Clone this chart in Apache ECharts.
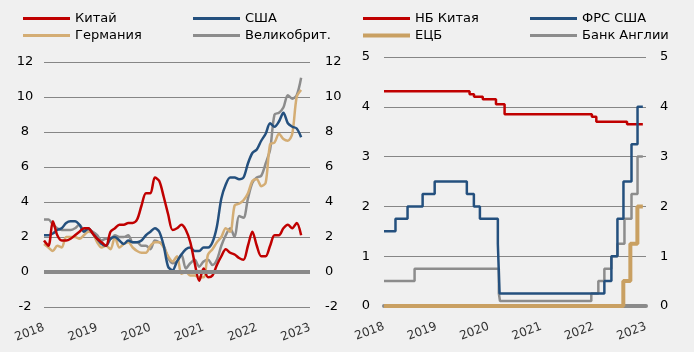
<!DOCTYPE html>
<html>
<head>
<meta charset="utf-8">
<script src="https://cdn.jsdelivr.net/npm/echarts@6/dist/echarts.min.js"></script>
<style>
  html, body { margin: 0; padding: 0; background: #f0f0f0; }
  #main { width: 694px; height: 352px; }
</style>
</head>
<body>
<div id="main"></div>
<script>
var myChart = echarts.init(document.getElementById('main'));

// left panel: CPI y/y, monthly from Dec 2017
var yearLabels = ['2018', '2019', '2020', '2021', '2022', '2023'];
var monthCount = 61;

var chinaCpi = [1.8, 1.5, 2.9, 2.1, 1.8, 1.8, 1.9, 2.1, 2.3, 2.5, 2.5, 2.2, 1.9,
  1.7, 1.5, 2.3, 2.5, 2.7, 2.7, 2.8, 2.8, 3.0, 3.8, 4.5, 4.5,
  5.4, 5.2, 4.3, 3.3, 2.4, 2.5, 2.7, 2.4, 1.7, 0.5, -0.5, 0.2,
  -0.3, -0.2, 0.4, 0.9, 1.3, 1.1, 1.0, 0.8, 0.7, 1.5, 2.3, 1.5,
  0.9, 0.9, 1.5, 2.1, 2.1, 2.5, 2.7, 2.5, 2.8, 2.1];
var usCpi = [2.1, 2.1, 2.2, 2.4, 2.5, 2.8, 2.9, 2.9, 2.7, 2.3, 2.5, 2.2, 1.9,
  1.6, 1.5, 1.9, 2.0, 1.8, 1.6, 1.8, 1.7, 1.7, 1.8, 2.1, 2.3,
  2.5, 2.3, 1.5, 0.3, 0.1, 0.6, 1.0, 1.3, 1.4, 1.2, 1.2, 1.4,
  1.4, 1.7, 2.6, 4.2, 5.0, 5.4, 5.4, 5.3, 5.4, 6.2, 6.8, 7.0,
  7.5, 7.9, 8.5, 8.3, 8.6, 9.1, 8.5, 8.3, 8.2, 7.7];
var gerCpi = [1.6, 1.4, 1.2, 1.5, 1.4, 2.0, 2.0, 2.0, 1.9, 2.1, 2.3, 2.2, 1.7,
  1.4, 1.5, 1.3, 2.0, 1.4, 1.6, 1.7, 1.4, 1.2, 1.1, 1.1, 1.5,
  1.7, 1.7, 1.4, 0.9, 0.6, 0.9, -0.1, 0.0, -0.2, -0.2, -0.3, -0.3,
  1.0, 1.3, 1.7, 2.0, 2.5, 2.3, 3.8, 3.9, 4.1, 4.5, 5.2, 5.3,
  4.9, 5.1, 7.3, 7.4, 7.9, 7.6, 7.5, 7.9, 10.0, 10.4];
var ukCpi = [3.0, 3.0, 2.7, 2.5, 2.4, 2.4, 2.4, 2.5, 2.7, 2.4, 2.4, 2.3, 2.1,
  1.8, 1.9, 1.9, 2.1, 2.0, 2.0, 2.1, 1.7, 1.7, 1.5, 1.5, 1.3,
  1.8, 1.7, 1.5, 0.8, 0.5, 0.6, 1.0, 0.2, 0.5, 0.7, 0.3, 0.6,
  0.7, 0.4, 0.7, 1.5, 2.1, 2.5, 2.0, 3.2, 3.1, 4.2, 5.1, 5.4,
  5.5, 6.2, 7.0, 9.0, 9.1, 9.4, 10.1, 9.9, 10.1, 11.1];

// right panel: policy rates, change dates
var pbocDates = ['2018-01-01', '2019-08-20', '2019-09-20', '2019-11-20', '2020-02-20', '2020-04-20', '2021-12-20', '2022-01-20', '2022-08-22', '2022-12-10'];
var pbocRates = [4.31, 4.25, 4.20, 4.15, 4.05, 3.85, 3.80, 3.70, 3.65, 3.65];
var fedDates = ['2018-01-01', '2018-03-22', '2018-06-14', '2018-09-27', '2018-12-20', '2019-08-01', '2019-09-19', '2019-10-31', '2020-03-04', '2020-03-16', '2022-03-17', '2022-05-05', '2022-06-16', '2022-07-28', '2022-09-22', '2022-11-03', '2022-12-10'];
var fedRates = [1.5, 1.75, 2.0, 2.25, 2.5, 2.25, 2.0, 1.75, 1.25, 0.25, 0.5, 1.0, 1.75, 2.5, 3.25, 4.0, 4.0];
var ecbDates = ['2018-01-01', '2022-07-27', '2022-09-14', '2022-11-02', '2022-12-10'];
var ecbRates = [0, 0.5, 1.25, 2.0, 2.0];
var boeDates = ['2018-01-01', '2018-08-02', '2020-03-11', '2020-03-19', '2021-12-16', '2022-02-03', '2022-03-17', '2022-05-05', '2022-06-16', '2022-08-04', '2022-09-22', '2022-11-03', '2022-12-10'];
var boeRates = [0.5, 0.75, 0.25, 0.1, 0.25, 0.5, 0.75, 1.0, 1.25, 1.75, 2.25, 3.0, 3.0];

var RED = '#c00000', BLUE = '#24507e', TAN = '#d4ad74', TAN2 = '#c9a062', GRAY = '#8c8c8c';
var FONT = 'DejaVu Sans';

var months = [];
for (var i = 0; i < monthCount; i++) months.push(String(i));

function toYear(s) {
  var y = +s.slice(0, 4);
  return y + (Date.parse(s) - Date.UTC(y, 0, 1)) / (365 * 864e5);
}
function steps(dates, rates) {
  return dates.map(function (d, k) { return [toYear(d), rates[k]]; });
}

function lineSeries(name, data, color, width) {
  return {
    name: name, type: 'line', data: data, smooth: 0.3, symbol: 'none',
    xAxisIndex: 0, yAxisIndex: 0,
    lineStyle: { color: color, width: width || 2.5 }, itemStyle: { color: color }
  };
}
function stepSeries(name, data, color, width) {
  return {
    name: name, type: 'line', data: data, step: 'end', symbol: 'none',
    xAxisIndex: 1, yAxisIndex: 2,
    lineStyle: { color: color, width: width || 2.5 }, itemStyle: { color: color }
  };
}
function leg(name, left, top, h) {
  return {
    data: [name], left: left, top: top, padding: 0, icon: 'rect',
    itemWidth: 47, itemHeight: h || 3, selectedMode: false,
    textStyle: { fontFamily: FONT, fontSize: 13, color: '#000' }
  };
}

var yLabel = { fontFamily: FONT, fontSize: 13, color: '#000' };
var xLabel = { fontFamily: FONT, fontSize: 12, color: '#333', rotate: 21, margin: 20 };
var split = { show: true, lineStyle: { color: '#868686', width: 1 } };

var uk = lineSeries('Великобрит.', ukCpi, GRAY);
uk.markLine = {
  silent: true, symbol: 'none', label: { show: false },
  lineStyle: { color: '#8a8a8a', width: 4, type: 'solid' },
  data: [{ yAxis: 0 }]
};

option = {
  backgroundColor: '#f0f0f0',
  animation: false,
  legend: [
    leg('Китай', 23, 12), leg('США', 193, 12),
    leg('Германия', 23, 29), leg('Великобрит.', 193, 29),
    leg('НБ Китая', 363, 12), leg('ФРС США', 530, 12),
    leg('ЕЦБ', 363, 29, 4), leg('Банк Англии', 530, 29)
  ],
  grid: [
    { left: 44, top: 62, width: 266, height: 245 },
    { left: 384, top: 57, width: 262, height: 249 }
  ],
  xAxis: [{
    type: 'category', gridIndex: 0, data: months, boundaryGap: false,
    axisLine: { show: false }, axisTick: { show: false },
    axisLabel: Object.assign({}, xLabel, {
      interval: 11,
      formatter: function (v, idx) { return yearLabels[idx / 12]; }
    })
  }, {
    type: 'value', gridIndex: 1, min: 2018, max: 2023, interval: 1,
    splitLine: { show: false }, axisTick: { show: false },
    axisLine: { show: true, lineStyle: { color: '#8a8a8a', width: 4 } },
    axisLabel: Object.assign({}, xLabel, { formatter: function (v) { return String(v); } })
  }],
  yAxis: [
    { type: 'value', gridIndex: 0, min: -2, max: 12, interval: 2, position: 'left',
      axisLine: { show: false }, axisTick: { show: false }, splitLine: split,
      axisLabel: Object.assign({}, yLabel, { align: 'center', margin: 19 }) },
    { type: 'value', gridIndex: 0, min: -2, max: 12, interval: 2, position: 'right',
      axisLine: { show: false }, axisTick: { show: false }, splitLine: { show: false },
      axisLabel: Object.assign({}, yLabel, { margin: 15 }) },
    { type: 'value', gridIndex: 1, min: 0, max: 5, interval: 1, position: 'left',
      axisLine: { show: false }, axisTick: { show: false }, splitLine: split,
      axisLabel: Object.assign({}, yLabel, { margin: 14 }) },
    { type: 'value', gridIndex: 1, min: 0, max: 5, interval: 1, position: 'right',
      axisLine: { show: false }, axisTick: { show: false }, splitLine: { show: false },
      axisLabel: Object.assign({}, yLabel, { margin: 14 }) }
  ],
  series: [
    uk,
    lineSeries('Германия', gerCpi, TAN),
    lineSeries('США', usCpi, BLUE),
    lineSeries('Китай', chinaCpi, RED),
    stepSeries('НБ Китая', steps(pbocDates, pbocRates), RED),
    stepSeries('ЕЦБ', steps(ecbDates, ecbRates), TAN2, 4),
    stepSeries('Банк Англии', steps(boeDates, boeRates), GRAY),
    stepSeries('ФРС США', steps(fedDates, fedRates), BLUE)
  ]
};

myChart.setOption(option);
</script>
</body>
</html>
